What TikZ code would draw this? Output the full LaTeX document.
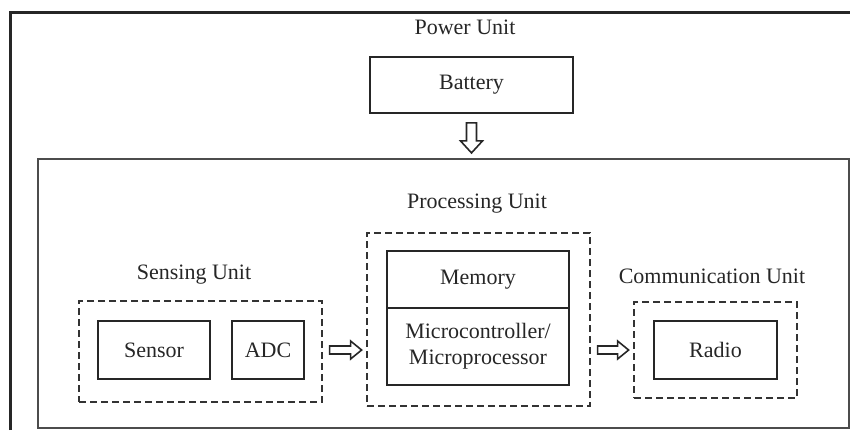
\documentclass[tikz,border=0pt]{standalone}
\usepackage{fontspec}
\setmainfont{Liberation Serif}
\usetikzlibrary{calc}
\tikzset{
  unitbox/.style={draw=black!85, line width=0.9pt, inner sep=0pt, align=center},
  groupbox/.style={draw=black!80, line width=0.6pt, dash pattern=on 3.5pt off 2pt, inner sep=0pt},
  unitlabel/.style={inner sep=0pt, text=black!85},
  hollow/.style={draw=black!85, line width=0.8pt, line join=miter}
}

\begin{document}
\begin{tikzpicture}[x=0.5pt, y=-0.5pt, font=\fontsize{11}{13}\selectfont, text=black!85]
			%%%%% START %%%%%
			\useasboundingbox (0, 0) rectangle (850, 430);
			
			% outer frame
			\draw[line width=1.5pt, color=black!85] (10, 430) -- (10, 12) -- (850, 12);
			
			% power unit
			\node[unitlabel] (powerlbl) at (465, 27) {Power Unit};
			\node[unitbox, minimum width=101.5pt, minimum height=28pt] (battery) at (471.5, 85) {Battery};
			
			% node box
			\node[draw=black!70, line width=1pt, minimum width=405.5pt, minimum height=134.5pt, inner sep=0pt] (sensornode) at (443.5, 293.5) {};
			
			% sensing unit
			\node[unitlabel] (senselbl) at (194, 275) {Sensing Unit};
			\node[groupbox, minimum width=121.5pt, minimum height=50.5pt] (sensing) at (200.5, 351.5) {};
			\node[unitbox, minimum width=56pt, minimum height=29pt] (sensor) at (154, 350) {Sensor};
			\node[unitbox, minimum width=36pt, minimum height=29pt] (adc) at (268, 350) {ADC};
			
			% processing unit
			\node[unitlabel] (proclbl) at (477, 204) {Processing Unit};
			\node[groupbox, minimum width=111.5pt, minimum height=86.5pt] (proc) at (478.5, 319.5) {};
			\node[unitbox, minimum width=91pt, minimum height=28.5pt] (memory) at (478, 279.5) {Memory};
			\node[unitbox, minimum width=91pt, minimum height=38.5pt] (mcu) at (478, 346.5) {Microcontroller/\\Microprocessor};
			
			% communication unit
			\node[unitlabel] (commlbl) at (712, 276) {Communication Unit};
			\node[groupbox, minimum width=81.5pt, minimum height=48pt] (comm) at (715.5, 350) {};
			\node[unitbox, minimum width=61.5pt, minimum height=29pt] (radio) at (715.5, 350) {Radio};
			
			% hollow arrows
			\draw[hollow] ($(battery.south)+(-5, 9)$) -- ++(0, 18) -- ++(-6, 0) -- ++(11, 12) -- ++(11, -12) -- ++(-6, 0) -- ++(0, -18) -- cycle;
			\draw[hollow] ($(sensing.east |- adc)+(7, -4)$) -- ++(21, 0) -- ++(0, -5) -- ++(11, 9) -- ++(-11, 9) -- ++(0, -5) -- ++(-21, 0) -- cycle;
			\draw[hollow] ($(proc.east |- radio)+(7, -4)$) -- ++(20, 0) -- ++(0, -5) -- ++(11, 9) -- ++(-11, 9) -- ++(0, -5) -- ++(-20, 0) -- cycle;
			
			%%%%% END %%%%%
\end{tikzpicture}
\end{document}
